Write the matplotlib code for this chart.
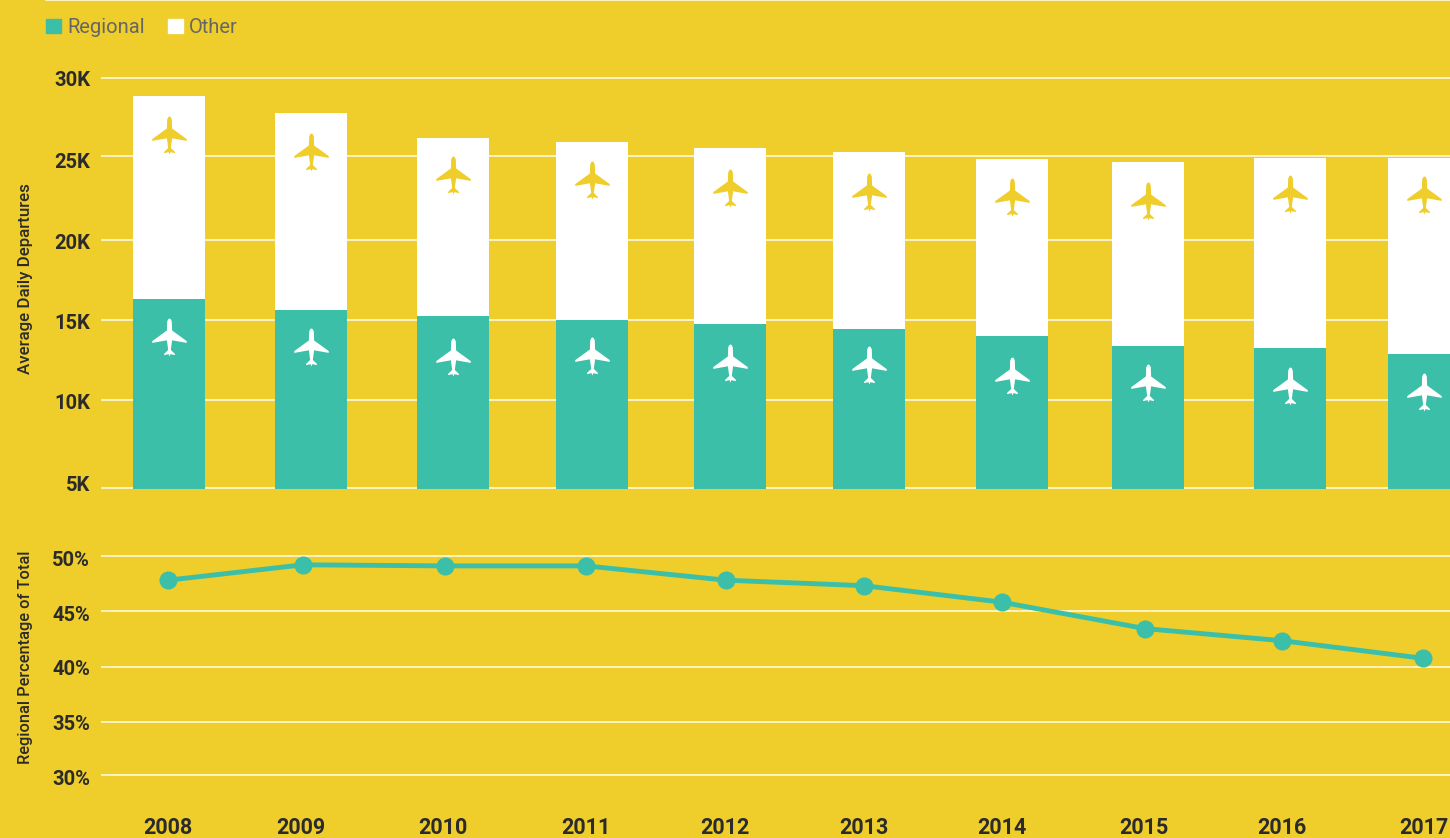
import matplotlib
matplotlib.use("Agg")
import matplotlib.pyplot as plt
from matplotlib.lines import Line2D
from matplotlib.patches import Patch
from matplotlib.path import Path

plt.rcParams['font.family'] = ['Roboto', 'DejaVu Sans']

# data
years = ['2008', '2009', '2010', '2011', '2012', '2013', '2014', '2015', '2016', '2017']
regional = [16.52, 15.85, 15.49, 15.24, 15.0, 14.7, 14.27, 13.66, 13.54, 13.17]  # thousands
other = [12.38, 12.02, 10.85, 10.86, 10.73, 10.79, 10.79, 11.22, 11.58, 11.95]
pct = [47.8, 49.2, 49.1, 49.1, 47.8, 47.3, 45.8, 43.4, 42.3, 40.7]

# the columns are not evenly spaced in the original
bar_x = [169, 311, 453, 592, 730, 869, 1012, 1148, 1290, 1424]
line_x = [168, 303, 445, 586, 726, 864, 1002, 1145, 1282, 1423]
year_x = [168, 301, 443, 586, 725, 864, 1002, 1144, 1282, 1424]

# plane icons, pixel rows
plane_upper_px = [135, 152, 175, 180, 188, 192, 197, 201, 194, 195]
plane_lower_px = [337, 347, 357, 356, 363, 365, 376, 383, 386, 392]

bar_ticks = [30.0, 25.0, 20.06, 15.18, 10.3, 5.3]
bar_labels = ['30K', '25K', '20K', '15K', '10K', '5K']
bar_grid = [30.0, 25.24, 20.12, 15.24, 10.37, 5.0]
pct_ticks = [49.8, 44.8, 39.9, 34.9, 29.9]
pct_labels = ['50%', '45%', '40%', '35%', '30%']
pct_grid = [49.97, 44.97, 39.9, 34.9, 30.1]

BG = '#EFCD2A'
TEAL = '#3BBFA8'
GRID = '#FDF6D0'
DARK = '#2B2B2B'
W, H = 1450, 838


def px_axes(fig, left, top, right, bottom):
    ax = fig.add_axes([left/W, 1-bottom/H, (right-left)/W, (bottom-top)/H])
    ax.set_facecolor('none')
    for s in ax.spines.values():
        s.set_visible(False)
    ax.set_xlim(left, right)
    return ax


def row_to_k(row):
    return 5+(488-row)/16.4


half = [(0, 19), (1.2, 18.4), (2.3, 16), (2.6, 7), (17.2, -3.6), (17.2, -5.4), (2.6, -2.8),
        (1.3, -12.4), (5.4, -16.4), (5.4, -17.6), (0.9, -16.6), (0, -19)]
verts = half + [(-a, b) for a, b in half[-2:0:-1]] + [(0, 19)]
plane = Path(verts, closed=True)

fig = plt.figure(figsize=(W/100, H/100), dpi=100, facecolor=BG)

# top panel
ax = px_axes(fig, 101, 0, W, 489)
ax.set_ylim(5-1/16.4, 5+488/16.4)
for g in bar_grid:
    ax.axhline(g, color=GRID, lw=1.3, zorder=1)
ax.bar(bar_x, regional, width=72, color=TEAL, zorder=2)
ax.bar(bar_x, other, width=72, bottom=regional, color='white', zorder=2)
ax.plot(bar_x, [row_to_k(r) for r in plane_lower_px], ls='none', marker=plane, ms=27.4, mfc='white', mew=0, zorder=3)
ax.plot(bar_x, [row_to_k(r) for r in plane_upper_px], ls='none', marker=plane, ms=27.4, mfc=BG, mew=0, zorder=3)
ax.set_xticks([])
ax.set_yticks(bar_ticks, bar_labels)
ax.tick_params(axis='y', length=0, pad=8, labelsize=14.5, labelcolor=DARK)
for t in ax.get_yticklabels():
    t.set_fontweight('bold')
ax.set_ylabel('Average Daily Departures', fontsize=12.2, color=DARK, fontweight='medium')
ax.yaxis.set_label_coords(-68/1349, 1-279/489)

# bottom panel
ax2 = px_axes(fig, 101, 500, W, 806)
ax2.set_ylim(50-(806-556)/11, 50+56/11)
for g in pct_grid:
    ax2.axhline(g, color=GRID, lw=1.3, zorder=1)
ax2.plot(line_x, pct, color=TEAL, lw=3.5, marker='o', ms=13, mew=0, zorder=3, clip_on=False)
ax2.set_xticks(year_x, years)
ax2.set_yticks(pct_ticks, pct_labels)
ax2.tick_params(axis='y', length=0, pad=8, labelsize=14.5, labelcolor=DARK)
ax2.tick_params(axis='x', length=0, pad=8, labelsize=15.5, labelcolor=DARK)
for t in ax2.get_yticklabels() + ax2.get_xticklabels():
    t.set_fontweight('bold')
ax2.set_ylabel('Regional Percentage of Total', fontsize=11.8, color=DARK, fontweight='medium')
ax2.yaxis.set_label_coords(-68/1349, 1-(657-500)/306)

# legend
handles = [Patch(color=TEAL), Patch(color='white')]
fig.legend(handles, ['Regional', 'Other'], ncol=2, frameon=False, loc='upper left',
           bbox_to_anchor=(46/W, 1-18/H), borderaxespad=0, borderpad=0,
           fontsize=14.5, labelcolor='#666666', handlelength=0.75, handleheight=0.75,
           handletextpad=0.3, columnspacing=1.15)
fig.add_artist(Line2D([46/W, 1], [1-0.5/H, 1-0.5/H], color=GRID, lw=1.3))

fig.savefig('out.png', dpi=100, facecolor=BG)
